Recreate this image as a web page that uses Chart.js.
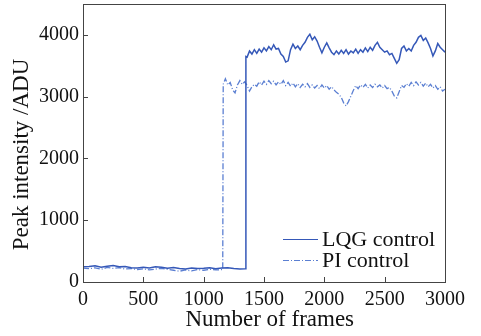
<!DOCTYPE html>
<html>
<head>
<meta charset="utf-8">
<script src="https://cdn.jsdelivr.net/npm/chart.js@4.4.1/dist/chart.umd.min.js"></script>
<style>
  html, body { margin: 0; padding: 0; background: #fff; }
  #wrap { width: 481px; height: 336px; }
</style>
</head>
<body>
<div id="wrap"><canvas id="peakChart"></canvas></div>
<script>
// LQG control: frame numbers and peak intensity (ADU)
const lqgFrames = [
  0, 50, 100, 150, 200, 250, 300, 350, 400, 450, 500, 550, 600, 650, 700, 750, 800, 850, 900, 950,
  1000, 1050, 1100, 1150, 1200, 1250, 1300, 1345, 1350,
  1360, 1380, 1400, 1420, 1440, 1460, 1480, 1500, 1520, 1540, 1560, 1580, 1600, 1620, 1640, 1660, 1680, 1700,
  1720, 1740, 1760, 1780, 1800, 1820, 1840, 1860, 1880, 1900, 1920, 1940, 1960, 1980, 2000, 2020, 2040, 2060,
  2080, 2100, 2120, 2140, 2160, 2180, 2200, 2220, 2240, 2260, 2280, 2300, 2320, 2340, 2360, 2380, 2400, 2420,
  2440, 2460, 2480, 2500, 2520, 2540, 2560, 2580, 2600, 2620, 2640, 2660, 2680, 2700, 2720, 2740, 2760, 2780,
  2800, 2820, 2840, 2860, 2880, 2900, 2920, 2940, 2960, 2980, 3000
];
const lqgPeak = [
  245, 250, 262, 238, 255, 265, 248, 252, 232, 225, 240, 228, 245, 240, 222, 235, 220, 212, 225, 218,
  222, 230, 215, 225, 232, 218, 212, 215, 3650,
  3640, 3740, 3690, 3760, 3700, 3770, 3720, 3790, 3740, 3810, 3760, 3840, 3770, 3780, 3690, 3650, 3560, 3580,
  3760, 3850, 3780, 3820, 3760, 3830, 3880, 3960, 4010, 3920, 3970, 3900, 3800, 3710, 3800, 3870, 3790, 3720,
  3680, 3740, 3690, 3750, 3700, 3760, 3690, 3740, 3710, 3770, 3700, 3760, 3720, 3790, 3730, 3800, 3750, 3830,
  3880, 3800, 3760, 3720, 3740, 3680, 3700, 3620, 3540, 3600, 3780, 3820, 3740, 3780, 3740, 3830, 3880, 3960,
  3990, 3910, 3950, 3870, 3780, 3660, 3740, 3860, 3800, 3760, 3720
];

// PI control: frame numbers and peak intensity (ADU)
const piFrames = [
  0, 50, 100, 150, 200, 250, 300, 350, 400, 450, 500, 550, 600, 650, 700, 750, 800, 850, 900, 950,
  1000, 1050, 1100, 1150, 1158, 1162,
  1180, 1200, 1220, 1240, 1260, 1280, 1300, 1320, 1340, 1360, 1380, 1400, 1420, 1440, 1460, 1480, 1500, 1520,
  1540, 1560, 1580, 1600, 1620, 1640, 1660, 1680, 1700, 1720, 1740, 1760, 1780, 1800, 1820, 1840, 1860, 1880,
  1900, 1920, 1940, 1960, 1980, 2000, 2020, 2040, 2060, 2080, 2100, 2120, 2140, 2160, 2180, 2200, 2220, 2240,
  2260, 2280, 2300, 2320, 2340, 2360, 2380, 2400, 2420, 2440, 2460, 2480, 2500, 2520, 2540, 2560, 2580, 2600,
  2620, 2640, 2660, 2680, 2700, 2720, 2740, 2760, 2780, 2800, 2820, 2840, 2860, 2880, 2900, 2920, 2940, 2960,
  2980, 3000
];
const piPeak = [
  225, 215, 230, 205, 235, 220, 232, 210, 218, 200, 215, 195, 210, 222, 205, 190, 175, 195, 180, 200,
  190, 205, 195, 200, 200, 3200,
  3290, 3190, 3230, 3110, 3060, 3190, 3260, 3200, 3240, 3180, 3090, 3160, 3200, 3170, 3240, 3190, 3250, 3200,
  3260, 3210, 3250, 3190, 3240, 3200, 3260, 3180, 3230, 3170, 3220, 3160, 3210, 3150, 3200, 3160, 3210, 3150,
  3190, 3140, 3180, 3130, 3190, 3140, 3180, 3120, 3160, 3110, 3070, 3040, 2990, 2900, 2850, 2920, 3010, 3100,
  3180, 3130, 3190, 3150, 3200, 3140, 3190, 3150, 3200, 3160, 3190, 3140, 3180, 3130, 3150, 3090, 3010, 2980,
  3080, 3180, 3150, 3210, 3170, 3230, 3180, 3240, 3190, 3230, 3170, 3220, 3160, 3200, 3140, 3180, 3120, 3160,
  3090, 3120
];

const seriesNames = ['LQG control', 'PI control'];
const xTicks = [0, 500, 1000, 1500, 2000, 2500, 3000];
const yTicks = [0, 1000, 2000, 3000, 4000];

const toPoints = (xs, ys) => xs.map((x, i) => ({ x: x, y: ys[i] }));

// axes box with inward tick marks
const boxPlugin = {
  id: 'box',
  afterDraw(chart) {
    const ctx = chart.ctx;
    const a = chart.chartArea;
    ctx.save();
    ctx.strokeStyle = '#444';
    ctx.lineWidth = 1;
    ctx.strokeRect(a.left + 0.5, a.top + 0.5, a.right - a.left, a.bottom - a.top);
    ctx.beginPath();
    chart.scales.x.ticks.forEach(t => {
      const px = Math.round(chart.scales.x.getPixelForValue(t.value)) + 0.5;
      if (px <= a.left + 1 || px >= a.right - 1) return;
      ctx.moveTo(px, a.bottom);
      ctx.lineTo(px, a.bottom - 5);
    });
    chart.scales.y.ticks.forEach(t => {
      const py = Math.round(chart.scales.y.getPixelForValue(t.value)) + 0.5;
      if (py <= a.top + 1 || py >= a.bottom - 1) return;
      ctx.moveTo(a.left, py);
      ctx.lineTo(a.left + 5, py);
    });
    ctx.stroke();
    ctx.restore();
  }
};

// legend drawn inside the plot, lower right
const legendPlugin = {
  id: 'innerLegend',
  afterDraw(chart) {
    const ctx = chart.ctx;
    ctx.save();
    ctx.font = "22px 'Liberation Serif', serif";
    ctx.textBaseline = 'middle';
    ctx.fillStyle = '#111';
    chart.data.datasets.forEach((ds, i) => {
      const y = 239 + i * 21 + 0.5;
      ctx.strokeStyle = ds.borderColor;
      ctx.lineWidth = 1;
      ctx.setLineDash(ds.borderDash || []);
      ctx.beginPath();
      ctx.moveTo(283, y);
      ctx.lineTo(318, y);
      ctx.stroke();
      ctx.setLineDash([]);
      ctx.fillText(ds.label, 322, y + 1);
    });
    ctx.restore();
  }
};

Chart.defaults.font.family = "'Liberation Serif', serif";
Chart.defaults.color = '#111';

new Chart(document.getElementById('peakChart'), {
  type: 'line',
  data: {
    datasets: [{
      label: seriesNames[0],
      data: toPoints(lqgFrames, lqgPeak),
      borderColor: '#3558b8',
      borderWidth: 1.5,
      pointRadius: 0,
      tension: 0
    }, {
      label: seriesNames[1],
      data: toPoints(piFrames, piPeak),
      borderColor: '#5b7fd2',
      borderWidth: 1.3,
      borderDash: [6, 2, 1, 2],
      pointRadius: 0,
      tension: 0
    }]
  },
  options: {
    responsive: true,
    maintainAspectRatio: false,
    animation: false,
    layout: { padding: { top: 4, right: 36, left: 0, bottom: 0 } },
    plugins: { legend: { display: false }, tooltip: { enabled: false } },
    scales: {
      x: {
        type: 'linear',
        min: 0,
        max: 3000,
        grid: { display: false, drawTicks: false },
        border: { display: false },
        afterBuildTicks(scale) { scale.ticks = xTicks.map(v => ({ value: v })); },
        ticks: { font: { size: 20 }, padding: 6, maxRotation: 0, autoSkip: false, callback: v => String(v) },
        title: { display: true, text: '  Number of frames', font: { size: 23 }, padding: { top: 0, bottom: 2 } },
        afterFit(scale) {
          scale.height = 54;
          scale.paddingLeft = 0;
          scale.paddingRight = 0;
        }
      },
      y: {
        min: 0,
        max: 4500,
        grid: { display: false, drawTicks: false },
        border: { display: false },
        afterBuildTicks(scale) { scale.ticks = yTicks.map(v => ({ value: v })); },
        ticks: { font: { size: 20 }, padding: 4, autoSkip: false, callback: v => String(v) },
        title: { display: true, text: 'Peak intensity /ADU    ', font: { size: 23 }, padding: { top: 8, bottom: 0 } },
        afterFit(scale) {
          scale.width = 83;
          scale.paddingTop = 0;
          scale.paddingBottom = 0;
        }
      }
    }
  },
  plugins: [boxPlugin, legendPlugin]
});
</script>
</body>
</html>
